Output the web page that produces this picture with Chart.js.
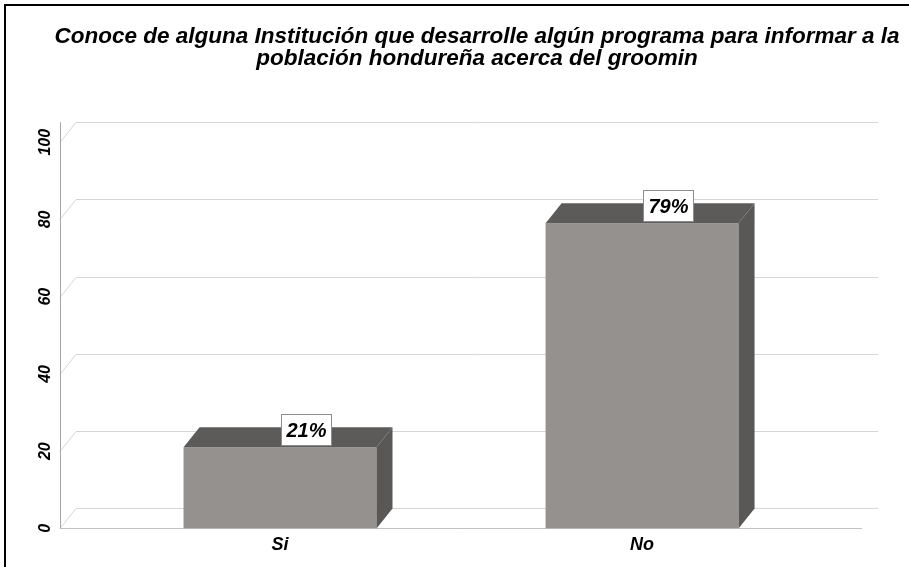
<!DOCTYPE html>
<html>
<head>
<meta charset="utf-8">
<script src="https://cdn.jsdelivr.net/npm/chart.js"></script>
<style>
  html, body { margin: 0; padding: 0; background: #fff; overflow: hidden; }
  #marco { position: absolute; left: 4px; top: 4px; border: 2px solid #000; width: 942px; height: 600px; }
</style>
</head>
<body>
<div id="marco"><canvas id="grafico" width="942" height="600"></canvas></div>
<script>
const titulo = [
  'Conoce de alguna Institución que desarrolle algún programa para informar a la',
  'población hondureña acerca del groomin'
];
const categorias = ['Si', 'No'];
const porcentajes = [21, 79];
const ticksY = [0, 20, 40, 60, 80, 100];

// profundidad del efecto 3D
const PX = 16;
const PY = -20;
const fuente = '"Liberation Sans", Arial, sans-serif';

const efecto3D = {
  id: 'efecto3D',
  beforeDatasetsDraw(chart) {
    const { ctx, chartArea, scales: { x, y } } = chart;
    const left = chartArea.left;
    const finFrente = x.getPixelForValue(1.608);
    const finFondo = finFrente + PX;
    ctx.save();
    ctx.lineWidth = 1;
    ctx.strokeStyle = '#d6d6d6';
    ticksY.forEach(v => {
      const py = Math.round(y.getPixelForValue(v)) + 0.5;
      ctx.beginPath();
      ctx.moveTo(left, py);
      ctx.lineTo(left + PX, py + PY);
      ctx.lineTo(finFondo, py + PY);
      ctx.stroke();
    });
    // suelo frontal
    const y0 = Math.round(y.getPixelForValue(0)) + 0.5;
    ctx.strokeStyle = '#c2c2c2';
    ctx.beginPath();
    ctx.moveTo(left, y0);
    ctx.lineTo(finFrente, y0);
    ctx.stroke();
    // eje vertical
    ctx.strokeStyle = '#a6a6a6';
    ctx.beginPath();
    ctx.moveTo(left + 0.5, y0);
    ctx.lineTo(left + 0.5, y.getPixelForValue(100) + PY);
    ctx.stroke();
    ctx.restore();
  },
  afterDatasetsDraw(chart) {
    const ctx = chart.ctx;
    const meta = chart.getDatasetMeta(0);
    ctx.save();
    meta.data.forEach((bar, i) => {
      const { x: cx, y: top, base, width } = bar.getProps(['x', 'y', 'base', 'width'], true);
      const l = cx - width / 2;
      const r = cx + width / 2;
      ctx.fillStyle = '#5d5b59';
      // cara superior
      ctx.beginPath();
      ctx.moveTo(l, top);
      ctx.lineTo(l + PX, top + PY);
      ctx.lineTo(r + PX, top + PY);
      ctx.lineTo(r, top);
      ctx.closePath();
      ctx.fill();
      // cara lateral
      ctx.fillStyle = '#5a5856';
      ctx.beginPath();
      ctx.moveTo(r, top);
      ctx.lineTo(r + PX, top + PY);
      ctx.lineTo(r + PX, base + PY);
      ctx.lineTo(r, base);
      ctx.closePath();
      ctx.fill();

      // etiqueta
      const texto = porcentajes[i] + '%';
      ctx.font = 'italic bold 20px ' + fuente;
      const w = Math.round(ctx.measureText(texto).width + 10);
      const h = 31;
      const bx = Math.round(cx + 26 - w / 2) + 0.5;
      const by = Math.round(top + PY + 2 - h / 2) + 0.5;
      ctx.fillStyle = '#fff';
      ctx.fillRect(bx, by, w, h);
      ctx.strokeStyle = '#8c8c8c';
      ctx.lineWidth = 1;
      ctx.strokeRect(bx, by, w, h);
      ctx.fillStyle = '#000';
      ctx.textAlign = 'center';
      ctx.textBaseline = 'middle';
      ctx.fillText(texto, bx + w / 2, by + h / 2 + 1);
    });
    ctx.restore();
  }
};

new Chart(document.getElementById('grafico'), {
  type: 'bar',
  data: {
    datasets: [{
      data: categorias.map((c, i) => ({ x: i, y: porcentajes[i] })),
      backgroundColor: '#95918f',
      borderWidth: 0,
      categoryPercentage: 1,
      barPercentage: 0.533
    }]
  },
  options: {
    responsive: false,
    animation: false,
    layout: { padding: { left: 0, right: 0, top: 0, bottom: 44 } },
    plugins: {
      legend: { display: false },
      tooltip: { enabled: false },
      title: {
        display: true,
        text: titulo,
        color: '#000',
        font: { family: fuente, size: 22.5, weight: 'bold', style: 'italic', lineHeight: 0.96 },
        padding: { top: 20, bottom: 73 }
      }
    },
    scales: {
      x: {
        type: 'linear',
        offset: false,
        min: -0.6077,
        max: 1.845,
        afterBuildTicks: ax => { ax.ticks = categorias.map((c, i) => ({ value: i })); },
        ticks: {
          callback: v => categorias[v],
          color: '#000',
          font: { family: fuente, size: 18, weight: 'bold', style: 'italic' },
          padding: 6,
          maxRotation: 0,
          autoSkip: false
        },
        grid: { display: false, drawTicks: false },
        border: { display: false }
      },
      y: {
        min: 0,
        max: 100,
        afterBuildTicks: ax => { ax.ticks = ticksY.map(v => ({ value: v })); },
        afterFit: ax => { ax.width = 54; },
        ticks: {
          minRotation: 90,
          maxRotation: 90,
          crossAlign: 'center',
          padding: 1,
          color: '#000',
          font: { family: fuente, size: 16, weight: 'bold', style: 'italic' }
        },
        grid: { display: false, drawTicks: false },
        border: { display: false }
      }
    }
  },
  plugins: [efecto3D]
});
</script>
</body>
</html>
